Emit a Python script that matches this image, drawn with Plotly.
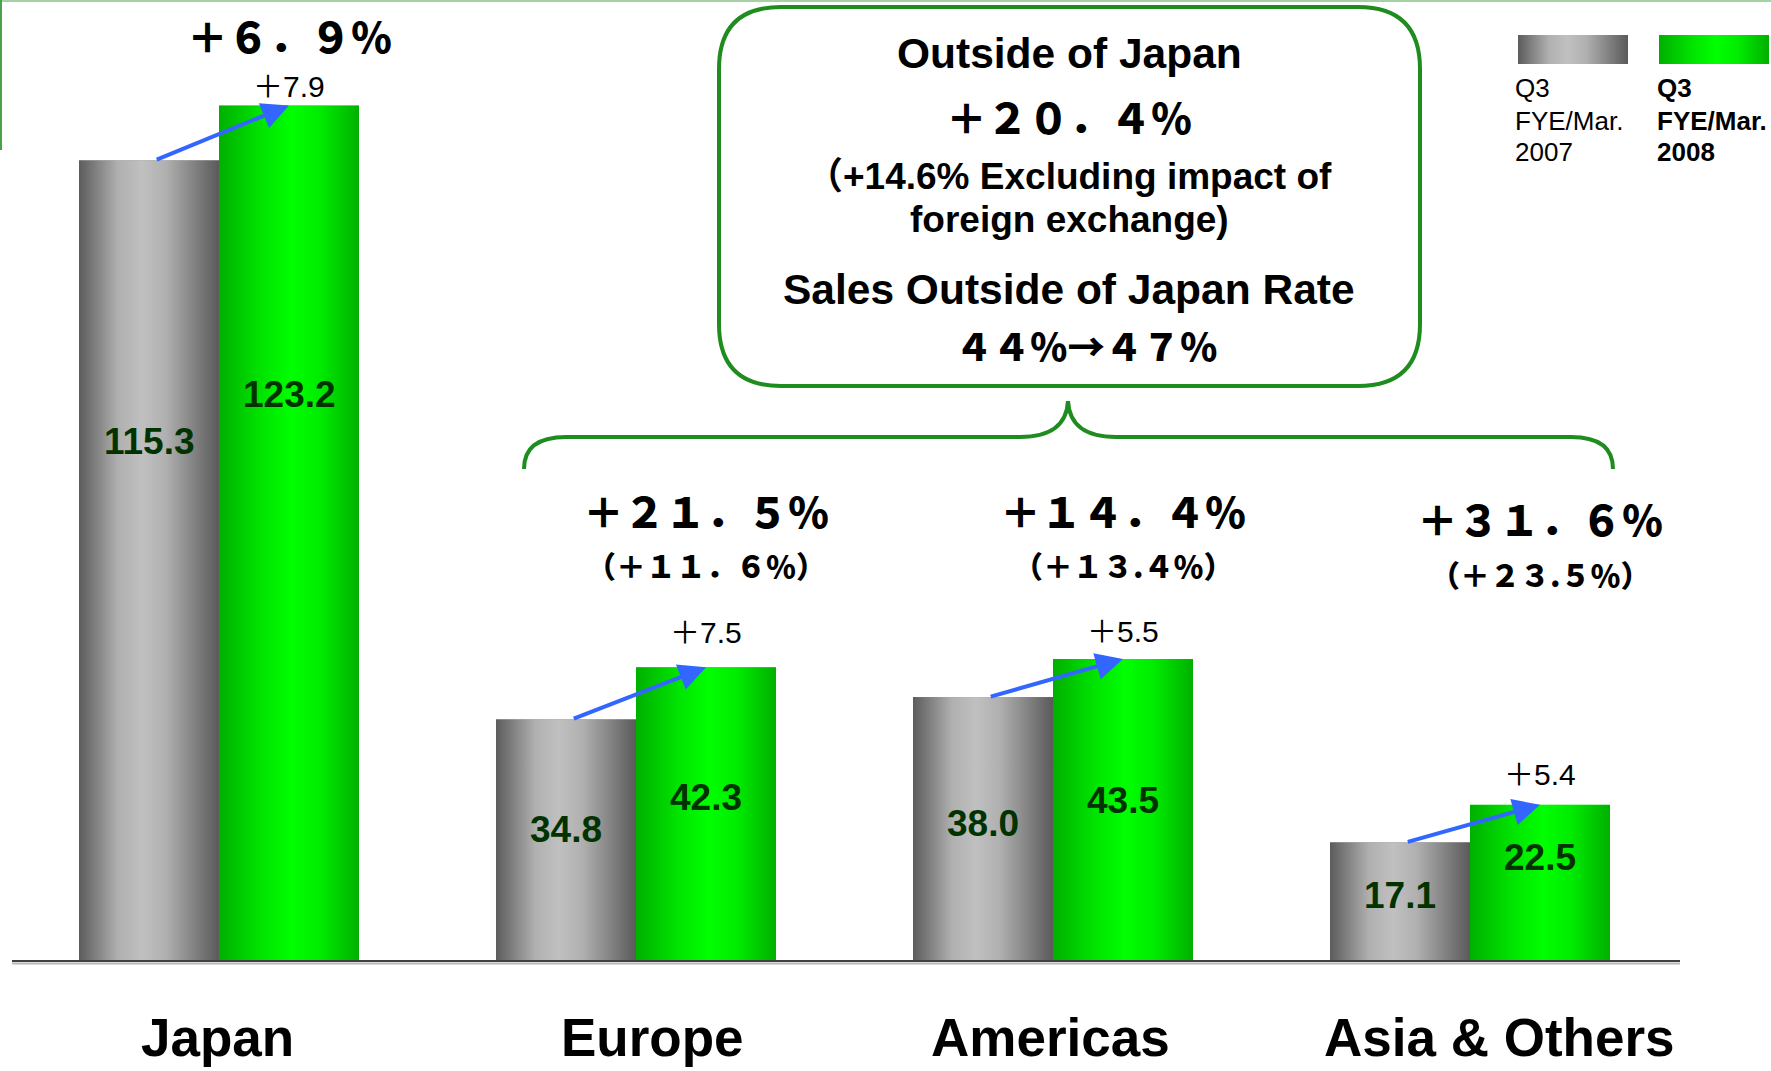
import base64
import plotly.graph_objects as go

# ---------------- data ----------------
categories = ["Japan", "Europe", "Americas", "Asia & Others"]
series_2007_name = ["Q3", "FYE/Mar.", "2007"]
series_2008_name = ["Q3", "FYE/Mar.", "2008"]
sales_2007 = [115.3, 34.8, 38.0, 17.1]
sales_2008 = [123.2, 42.3, 43.5, 22.5]
growth_labels = ["＋６．９％", "＋２１．５％", "＋１４．４％", "＋３１．６％"]
growth_ex_fx_labels = ["", "（＋１１．６％）", "（＋１３.４％）", "（＋２３.５％）"]
box_title = "Outside of Japan"
box_growth = "＋２０．４％"
box_fx_lines = ["（+14.6% Excluding impact of", "foreign exchange)"]
box_rate_title = "Sales Outside of Japan Rate"
box_rate = "４４％→４７％"

# ---------------- layout constants ----------------
W, H = 1771, 1071
X0_PX, PX_X = 219, 417.0          # pixel of category 0 centre, pixels per category
BASE_PX, PX_Y = 961, 6.945         # pixel of y=0, pixels per unit
BAR_W = 140 / PX_X
GREEN_LINE = "#1e8c1e"
LABEL_DARK = "#003300"
LATIN = "Liberation Sans, Arial, Noto Sans CJK JP"
CJK = "Noto Sans CJK JP"

value_label_y_2007 = [74.8, 18.9, 19.8, 9.4]
value_label_y_2008 = [81.6, 23.6, 23.1, 14.9]
diff_yshift = [19, 35, 27, 30]
growth_y_px = [35, 510, 510, 518]
fx_y_px = [0, 565, 565, 574]
cat_xshift = [-2, 16, -3, 29]
legend_line_y_px = [88, 121, 152]


def px(x):
    return x / W


def py(y):
    return 1 - y / H


def grad_svg(stops):
    s = "".join(f"<stop offset='{o}' stop-color='{c}'/>" for o, c in stops)
    svg = ("<svg xmlns='http://www.w3.org/2000/svg' viewBox='0 0 100 100' "
           "preserveAspectRatio='none' width='100' height='100'><defs>"
           f"<linearGradient id='g' x1='0' y1='0' x2='1' y2='0'>{s}</linearGradient>"
           "</defs><rect x='0' y='0' width='100' height='100' fill='url(#g)'/></svg>")
    return "data:image/svg+xml;base64," + base64.b64encode(svg.encode()).decode()


GRAY_SRC = grad_svg([(0, "#5c5c5c"), (0.28, "#b0b0b0"), (0.45, "#c0c0c0"),
                     (0.62, "#b0b0b0"), (0.85, "#7c7c7c"), (1, "#5a5a5a")])
GREEN_SRC = grad_svg([(0, "#00b000"), (0.3, "#00e400"), (0.52, "#00ff00"),
                      (0.72, "#00ec00"), (1, "#00b000")])

xpos = list(range(len(categories)))

fig = go.Figure()
fig.add_trace(go.Bar(x=xpos, y=sales_2007, width=BAR_W, offset=-BAR_W,
                     marker=dict(color="#9a9a9a", line=dict(width=0)),
                     name=" ".join(series_2007_name), hoverinfo="y"))
fig.add_trace(go.Bar(x=xpos, y=sales_2008, width=BAR_W, offset=0,
                     marker=dict(color="#00e000", line=dict(width=0)),
                     name=" ".join(series_2008_name), hoverinfo="y"))

images = []
annotations = []
shapes = []


def text_ann(**kw):
    base = dict(showarrow=False, xanchor="center", yanchor="middle")
    base.update(kw)
    annotations.append(base)


for i, (p, g) in enumerate(zip(sales_2007, sales_2008)):
    images.append(dict(source=GRAY_SRC, xref="x", yref="y", x=i - BAR_W, y=p,
                       sizex=BAR_W, sizey=p, xanchor="left", yanchor="top",
                       sizing="stretch", layer="above"))
    images.append(dict(source=GREEN_SRC, xref="x", yref="y", x=i, y=g,
                       sizex=BAR_W, sizey=g, xanchor="left", yanchor="top",
                       sizing="stretch", layer="above"))
    # value labels
    text_ann(x=i - BAR_W / 2, y=value_label_y_2007[i], xref="x", yref="y",
             text=f"<b>{p:.1f}</b>", font=dict(family=LATIN, size=37, color=LABEL_DARK))
    text_ann(x=i + BAR_W / 2, y=value_label_y_2008[i], xref="x", yref="y",
             text=f"<b>{g:.1f}</b>", font=dict(family=LATIN, size=37, color=LABEL_DARK))
    # difference label
    text_ann(x=i + BAR_W / 2, y=g, xref="x", yref="y", yshift=diff_yshift[i],
             text=f"＋{g - p:.1f}", font=dict(family=LATIN, size=30, color="#000000"))
    # blue arrow
    annotations.append(dict(x=i + BAR_W / 2, y=g, xref="x", yref="y",
                            ax=i - BAR_W / 2 + 0.015, ay=p, axref="x", ayref="y",
                            text="", showarrow=True, arrowhead=2, arrowsize=1.35,
                            arrowwidth=4, arrowcolor="#3366ff", standoff=0,
                            startstandoff=0))
    # growth rates
    text_ann(x=i + BAR_W / 2, y=py(growth_y_px[i]), xref="x", yref="paper",
             text=growth_labels[i],
             font=dict(family=CJK, size=41, color="#000000", weight=900))
    if growth_ex_fx_labels[i]:
        text_ann(x=i + BAR_W / 2, y=py(fx_y_px[i]), xref="x", yref="paper",
                 text=growth_ex_fx_labels[i],
                 font=dict(family=CJK, size=30, color="#000000", weight=900))
    # category labels
    text_ann(x=i, y=py(1037), xref="x", yref="paper", xshift=cat_xshift[i],
             text=f"<b>{categories[i]}</b>", font=dict(family=LATIN, size=53, color="#000000"))

# ---- callout box ----
L, R, T, B, r = 719, 1420, 7, 386, 62
box_path = (f"M {px(L + r)},{py(T)} L {px(R - r)},{py(T)} Q {px(R)},{py(T)} {px(R)},{py(T + r)} "
            f"L {px(R)},{py(B - r)} Q {px(R)},{py(B)} {px(R - r)},{py(B)} "
            f"L {px(L + r)},{py(B)} Q {px(L)},{py(B)} {px(L)},{py(B - r)} "
            f"L {px(L)},{py(T + r)} Q {px(L)},{py(T)} {px(L + r)},{py(T)} Z")
shapes.append(dict(type="path", path=box_path, xref="paper", yref="paper",
                   line=dict(color=GREEN_LINE, width=4), fillcolor="white", layer="above"))
brace_path = (f"M {px(524)},{py(469)} Q {px(524)},{py(437)} {px(566)},{py(437)} "
              f"L {px(1020)},{py(437)} Q {px(1066)},{py(437)} {px(1068)},{py(401)} "
              f"Q {px(1070)},{py(437)} {px(1116)},{py(437)} "
              f"L {px(1571)},{py(437)} Q {px(1613)},{py(437)} {px(1613)},{py(469)}")
shapes.append(dict(type="path", path=brace_path, xref="paper", yref="paper",
                   line=dict(color=GREEN_LINE, width=4), layer="above"))

box_texts = [
    (box_title, 1069, 53, LATIN, 42.5, 700),
    (box_growth, 1069, 116, CJK, 41, 900),
    (box_fx_lines[0], 1069, 177, LATIN, 37, 700),
    (box_fx_lines[1], 1069, 220, LATIN, 37, 700),
    (box_rate_title, 1069, 290, LATIN, 42.5, 700),
    (box_rate, 1086, 345, CJK, 37.5, 900),
]
for txt, xpx, ypx, fam, size, wt in box_texts:
    text_ann(x=px(xpx), y=py(ypx), xref="paper", yref="paper",
             text=txt, font=dict(family=fam, size=size, color="#000000", weight=wt))

# ---- legend ----
images.append(dict(source=GRAY_SRC, xref="paper", yref="paper", x=px(1518), y=py(35),
                   sizex=110 / W, sizey=29 / H, xanchor="left", yanchor="top",
                   sizing="stretch", layer="above"))
images.append(dict(source=GREEN_SRC, xref="paper", yref="paper", x=px(1659), y=py(35),
                   sizex=110 / W, sizey=29 / H, xanchor="left", yanchor="top",
                   sizing="stretch", layer="above"))
for line07, line08, ypx in zip(series_2007_name, series_2008_name, legend_line_y_px):
    text_ann(x=px(1513), y=py(ypx), xref="paper", yref="paper", xanchor="left",
             text=line07, font=dict(family=LATIN, size=26, color="#000000"))
    text_ann(x=px(1655), y=py(ypx), xref="paper", yref="paper", xanchor="left",
             text=f"<b>{line08}</b>", font=dict(family=LATIN, size=26, color="#000000"))

# ---- baseline and frame lines ----
shapes.append(dict(type="line", xref="paper", yref="paper", x0=px(12), x1=px(1680),
                   y0=py(963.5), y1=py(963.5), line=dict(color="#b8b8b8", width=2)))
shapes.append(dict(type="line", xref="paper", yref="paper", x0=px(12), x1=px(1680),
                   y0=py(961), y1=py(961), line=dict(color="#404040", width=2)))
shapes.append(dict(type="line", xref="paper", yref="paper", x0=0, x1=1,
                   y0=py(1), y1=py(1), line=dict(color="#a3d3a3", width=2)))
shapes.append(dict(type="line", xref="paper", yref="paper", x0=px(1), x1=px(1),
                   y0=1, y1=py(150), line=dict(color="#4aa24a", width=2)))

fig.update_layout(
    width=W, height=H,
    margin=dict(l=0, r=0, t=0, b=0),
    paper_bgcolor="white", plot_bgcolor="white",
    barmode="overlay", showlegend=False,
    xaxis=dict(range=[-X0_PX / PX_X, (W - X0_PX) / PX_X], visible=False, fixedrange=True),
    yaxis=dict(range=[-(H - BASE_PX) / PX_Y, BASE_PX / PX_Y], visible=False, fixedrange=True),
    images=images, annotations=annotations, shapes=shapes,
)

fig.write_html("out.html")
